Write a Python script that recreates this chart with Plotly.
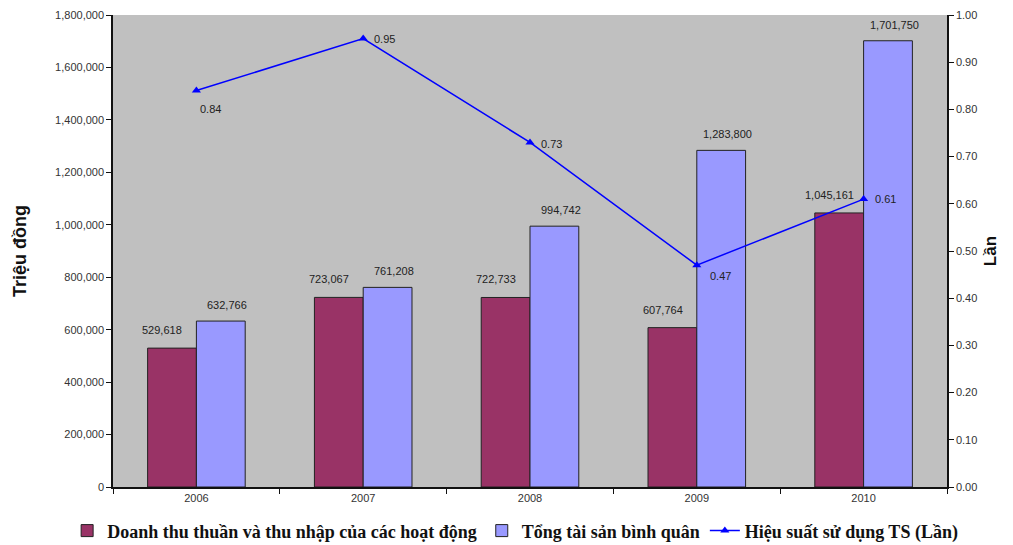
import plotly.graph_objects as go

years = ["2006", "2007", "2008", "2009", "2010"]
doanh_thu = [529618, 723067, 722733, 607764, 1045161]
tong_tai_san = [632766, 761208, 994742, 1283800, 1701750]
hieu_suat = [0.84, 0.95, 0.73, 0.47, 0.61]

left_ticks = list(range(0, 1800001, 200000))
right_ticks = [i / 10 for i in range(11)]

label_font = dict(family="Liberation Sans, Arial", size=11, color="#222")
tick_font = dict(family="Liberation Sans, Arial", size=11, color="#333")

fig = go.Figure()
fig.add_trace(go.Bar(
    x=years, y=doanh_thu, name="Doanh thu thuần và thu nhập của các hoạt động",
    marker=dict(color="#993366", line=dict(color="#222", width=1)),
))
fig.add_trace(go.Bar(
    x=years, y=tong_tai_san, name="Tổng tài sản bình quân",
    marker=dict(color="#9999ff", line=dict(color="#222", width=1)),
))
fig.add_trace(go.Scatter(
    x=years, y=hieu_suat, name="Hiệu suất sử dụng TS (Lần)", yaxis="y2",
    mode="lines+markers",
    line=dict(color="#0000ff", width=1.5),
    marker=dict(symbol="triangle-up", size=8, color="#0000ff"),
    cliponaxis=False,
))

# value labels above each bar (x given as category index), offset outward
for i, v in enumerate(doanh_thu):
    fig.add_annotation(x=i, y=v, xref="x", yref="y", text=f"{v:,}",
                       showarrow=False, xshift=-34, yshift=10, yanchor="bottom",
                       font=label_font)
for i, v in enumerate(tong_tai_san):
    fig.add_annotation(x=i, y=v, xref="x", yref="y", text=f"{v:,}",
                       showarrow=False, xshift=31, yshift=8, yanchor="bottom",
                       font=label_font)

# labels for the efficiency line
line_offsets = [(2, -18), (9, 0), (9, -2), (11, -11), (9, 0)]
for i, (v, (dx, dy)) in enumerate(zip(hieu_suat, line_offsets)):
    fig.add_annotation(x=i, y=v, xref="x", yref="y2", text=f"{v:.2f}",
                       showarrow=False, xshift=dx, yshift=dy, xanchor="left",
                       font=label_font)

fig.update_layout(
    width=1013, height=545,
    margin=dict(l=113, r=66, t=15, b=58, autoexpand=False),
    paper_bgcolor="white", plot_bgcolor="#c0c0c0",
    barmode="group", bargap=0.415, bargroupgap=0,
    showlegend=True,
    legend=dict(orientation="h", x=-0.055, y=-0.093, yanchor="middle", xanchor="left",
                font=dict(family="Liberation Serif, Times New Roman", size=18, color="#111",
                          weight="bold"),
                itemwidth=30, tracegroupgap=0, bgcolor="rgba(0,0,0,0)"),
    xaxis=dict(
        type="category", range=[-0.5, 4.5],
        showgrid=False, showline=True, linecolor="#111", linewidth=1.5,
        ticks="outside", ticklen=5, tickcolor="#111", tickson="boundaries",
        tickfont=tick_font, mirror=False,
    ),
    yaxis=dict(
        range=[0, 1800000], tickvals=left_ticks,
        ticktext=[f"{v:,}" for v in left_ticks],
        showgrid=False, showline=True, linecolor="#111", linewidth=1.5,
        ticks="outside", ticklen=5, tickcolor="#111", tickfont=tick_font,
        title=dict(text="<b>Triệu đồng</b>",
                   font=dict(family="Liberation Sans, Arial", size=18, color="#111"),
                   standoff=24),
        zeroline=False,
    ),
    yaxis2=dict(
        range=[0, 1.0], tickvals=right_ticks,
        ticktext=[f"{v:.2f}" for v in right_ticks],
        overlaying="y", side="right",
        showgrid=False, showline=True, linecolor="#111", linewidth=1.5,
        ticks="outside", ticklen=5, tickcolor="#111", tickfont=tick_font,
        title=dict(text="<b>Lần</b>",
                   font=dict(family="Liberation Sans, Arial", size=17, color="#111"),
                   standoff=8),
        zeroline=False,
    ),
)

fig.write_html("out.html")
